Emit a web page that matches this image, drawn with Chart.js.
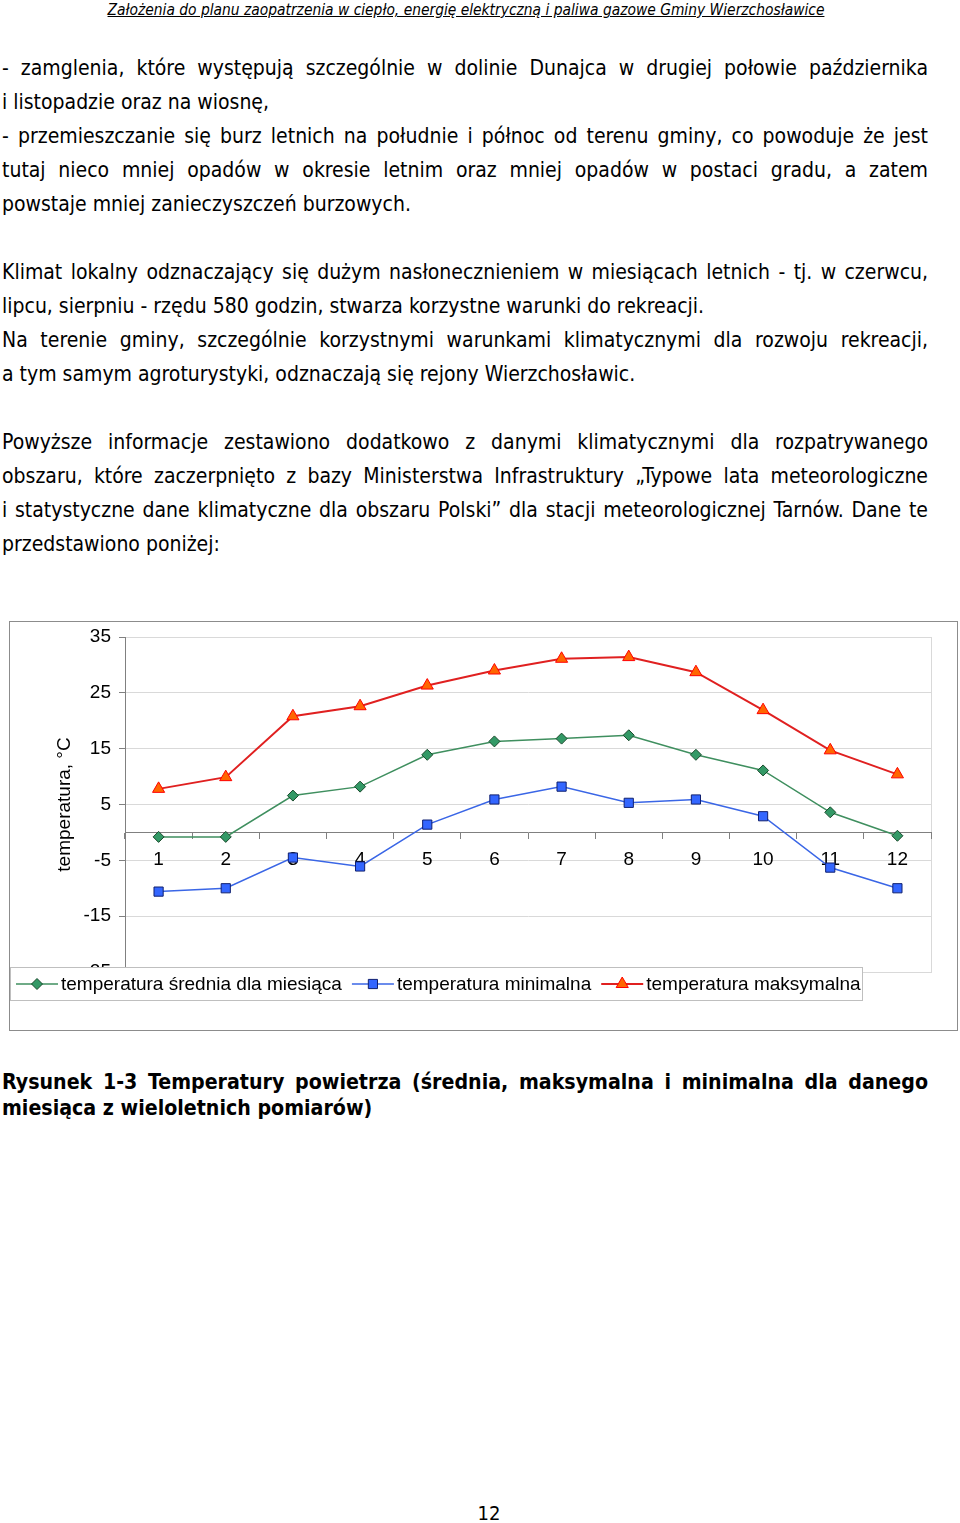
<!DOCTYPE html>
<html lang="pl">
<head>
<meta charset="utf-8">
<title>Temperatury powietrza</title>
<script src="https://cdn.jsdelivr.net/npm/chart.js@4.4.1/dist/chart.umd.min.js"></script>
<style>
  body { margin: 0; width: 960px; height: 1523px; background: #fff; position: relative; color: #000;
         font-family: "DejaVu Sans Condensed", "DejaVu Sans", sans-serif; font-stretch: condensed; }
  .hdr { position: absolute; left: 0; top: 1px; width: 932px; text-align: center; font-size: 15.4px; font-style: italic; text-decoration: underline; }
  .txt { position: absolute; left: 2px; top: 51px; width: 926px; font-size: 21px; line-height: 34px; }
  .txt div { white-space: nowrap; height: 34px; }
  .j { text-align: justify; text-align-last: justify; }
  #chartBox { position: absolute; left: 9px; top: 621px; width: 947px; height: 408px; border: 1px solid #8c8c8c; }
  #chartBox canvas { display: block; }
  .cap { position: absolute; left: 2px; top: 1069px; width: 926px; font-size: 21.2px; font-weight: bold; line-height: 26px; }
  .cap div { white-space: nowrap; }
  .pg { position: absolute; left: 0; width: 978px; top: 1501px; text-align: center; font-size: 20px; }
</style>
</head>
<body>
<div class="hdr">Założenia do planu zaopatrzenia w ciepło, energię elektryczną i paliwa gazowe Gminy Wierzchosławice</div>

<div class="txt">
  <div class="j">- zamglenia, które występują szczególnie w dolinie Dunajca w drugiej połowie października</div>
  <div>i listopadzie oraz na wiosnę,</div>
  <div class="j">- przemieszczanie się burz letnich na południe i północ od terenu gminy, co powoduje że jest</div>
  <div class="j">tutaj nieco mniej opadów w okresie letnim oraz mniej opadów w postaci gradu, a zatem</div>
  <div>powstaje mniej zanieczyszczeń burzowych.</div>
  <div></div>
  <div class="j">Klimat lokalny odznaczający się dużym nasłonecznieniem w miesiącach letnich - tj. w czerwcu,</div>
  <div>lipcu, sierpniu - rzędu 580 godzin, stwarza korzystne warunki do rekreacji.</div>
  <div class="j">Na terenie gminy, szczególnie korzystnymi warunkami klimatycznymi dla rozwoju rekreacji,</div>
  <div>a tym samym agroturystyki, odznaczają się rejony Wierzchosławic.</div>
  <div></div>
  <div class="j">Powyższe informacje zestawiono dodatkowo z danymi klimatycznymi dla rozpatrywanego</div>
  <div class="j">obszaru, które zaczerpnięto z bazy Ministerstwa Infrastruktury „Typowe lata meteorologiczne</div>
  <div class="j">i statystyczne dane klimatyczne dla obszaru Polski” dla stacji meteorologicznej Tarnów. Dane te</div>
  <div>przedstawiono poniżej:</div>
</div>

<div id="chartBox"><canvas id="tempChart" width="947" height="408"></canvas></div>

<div class="cap">
  <div class="j">Rysunek 1-3 Temperatury powietrza (średnia, maksymalna i minimalna dla danego</div>
  <div>miesiąca z wieloletnich pomiarów)</div>
</div>

<div class="pg">12</div>

<script>
// Dane
const months = ['1', '2', '3', '4', '5', '6', '7', '8', '9', '10', '11', '12'];
const tempMean = [-0.8, -0.8, 6.6, 8.2, 13.9, 16.3, 16.8, 17.4, 13.9, 11.1, 3.6, -0.6];
const tempMin = [-10.6, -10.0, -4.5, -6.1, 1.4, 5.9, 8.2, 5.3, 5.9, 2.9, -6.3, -10.0];
const tempMax = [7.8, 9.9, 20.8, 22.6, 26.3, 29.0, 31.1, 31.4, 28.7, 21.9, 14.7, 10.4];
const yMin = -25;
const yMax = 35;
const yStep = 10;

const chartFont = { family: '"Liberation Sans", Arial, sans-serif', size: 19 };

// Ramka obszaru wykresu (jasnoszara)
const plotFrame = {
    id: 'plotFrame',
    beforeDraw(chart) {
        const { left, top, width, height } = chart.chartArea;
        const ctx = chart.ctx;
        ctx.save();
        ctx.strokeStyle = '#d9d9d9';
        ctx.lineWidth = 1;
        ctx.strokeRect(Math.round(left) + 0.5, Math.round(top) + 0.5, Math.round(width), Math.round(height));
        ctx.restore();
    }
};

// Legenda w ramce, nachodzi na dół wykresu
const boxLegend = {
    id: 'boxLegend',
    afterDraw(chart) {
        const ctx = chart.ctx;
        const x0 = 0.5, y0 = 345.5, w = 852, h = 33;
        ctx.save();
        ctx.fillStyle = '#fff';
        ctx.fillRect(x0, y0, w, h);
        ctx.strokeStyle = '#bfbfbf';
        ctx.lineWidth = 1;
        ctx.strokeRect(x0, y0, w, h);
        ctx.font = chartFont.size + 'px ' + chartFont.family;
        ctx.textBaseline = 'middle';
        const cy = y0 + h / 2;
        let x = 6;
        chart.data.datasets.forEach(function(ds) {
            ctx.strokeStyle = ds.borderColor;
            ctx.lineWidth = ds.borderWidth;
            ctx.beginPath();
            ctx.moveTo(x, cy);
            ctx.lineTo(x + 42, cy);
            ctx.stroke();
            ctx.fillStyle = ds.pointBackgroundColor;
            ctx.strokeStyle = ds.pointBorderColor;
            ctx.lineWidth = 1;
            Chart.helpers.drawPoint(ctx, { pointStyle: ds.pointStyle, radius: ds.pointRadius, borderWidth: 1, rotation: 0 }, x + 21, cy);
            ctx.fillStyle = '#000';
            ctx.fillText(ds.label, x + 45, cy + 1);
            x += 45 + ctx.measureText(ds.label).width + 10;
        });
        ctx.restore();
    }
};

new Chart(document.getElementById('tempChart'), {
    type: 'line',
    data: {
        labels: months,
        datasets: [
            {
                label: 'temperatura średnia dla miesiąca',
                data: tempMean,
                borderColor: '#3f8f5f',
                borderWidth: 1.5,
                pointStyle: 'rectRot',
                pointRadius: 5.5,
                pointBackgroundColor: '#339966',
                pointBorderColor: '#1a4a2c',
                pointBorderWidth: 1
            },
            {
                label: 'temperatura minimalna',
                data: tempMin,
                borderColor: '#3a66e6',
                borderWidth: 1.5,
                pointStyle: 'rect',
                pointRadius: 6.5,
                pointBackgroundColor: '#3366ff',
                pointBorderColor: '#102070',
                pointBorderWidth: 1
            },
            {
                label: 'temperatura maksymalna',
                data: tempMax,
                borderColor: '#e02020',
                borderWidth: 2,
                pointStyle: 'triangle',
                pointRadius: 7,
                pointBackgroundColor: '#ff6600',
                pointBorderColor: '#ff0000',
                pointBorderWidth: 1
            }
        ]
    },
    options: {
        responsive: false,
        animation: false,
        layout: { padding: { top: 15, right: 26, bottom: 58, left: 0 } },
        plugins: {
            legend: { display: false },
            tooltip: { enabled: false }
        },
        elements: { line: { tension: 0 } },
        scales: {
            x: {
                position: { y: 0 },
                offset: true,
                grid: { offset: true, drawOnChartArea: false, tickLength: 6, color: '#808080' },
                border: { color: '#808080' },
                ticks: { font: chartFont, color: '#000', padding: 10, maxRotation: 0, autoSkip: false }
            },
            y: {
                min: yMin,
                max: yMax,
                ticks: { stepSize: yStep, font: chartFont, color: '#000', padding: 8 },
                grid: { color: '#d9d9d9', tickColor: '#808080', tickLength: 6 },
                border: { color: '#808080' },
                title: {
                    display: true,
                    text: 'temperatura, °C',
                    font: chartFont,
                    color: '#000',
                    padding: { top: 43, bottom: 0 }
                },
                afterFit: function(scale) {
                    scale.width = 115;
                    scale.paddingTop = 0;
                    scale.paddingBottom = 0;
                }
            }
        }
    },
    plugins: [plotFrame, boxLegend]
});
</script>
</body>
</html>
